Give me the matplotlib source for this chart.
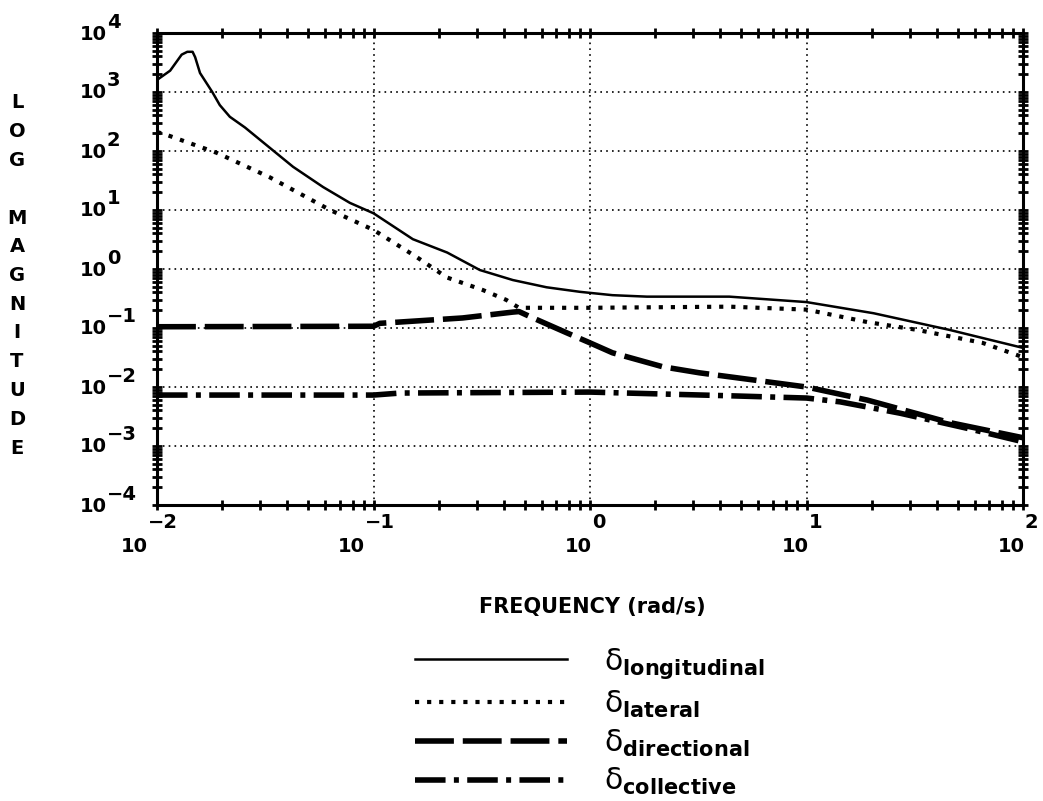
import matplotlib
matplotlib.use("Agg")
import matplotlib.pyplot as plt

# frequency (rad/s) and magnitude readings for each control input
long_freq = [0.0100, 0.0115, 0.0130, 0.0138, 0.0146, 0.0150, 0.0158, 0.0180, 0.0195, 0.0217,
             0.0255, 0.0299, 0.0425, 0.0585, 0.0778, 0.100, 0.152, 0.219, 0.31, 0.44, 0.63,
             0.90, 1.27, 1.83, 4.4, 10.0, 20.4, 45.7, 100.0]
long_mag = [1600, 2300, 4300, 4800, 4800, 3900, 2100, 1000, 600, 380,
            250, 155, 54, 24.5, 13.2, 8.8, 3.2, 1.9, 0.96, 0.65, 0.49,
            0.41, 0.36, 0.34, 0.34, 0.275, 0.178, 0.093, 0.046]

lat_freq = [0.0100, 0.0112, 0.0189, 0.0331, 0.063, 0.100, 0.158, 0.218, 0.32, 0.41, 0.47,
            1.0, 4.4, 10.0, 19.1, 32.4, 65.0, 100.0]
lat_mag = [210, 185, 93, 36, 10, 4.6, 1.6, 0.72, 0.44, 0.30, 0.22,
           0.22, 0.23, 0.205, 0.126, 0.093, 0.056, 0.032]

dir_freq = [0.0100, 0.100, 0.107, 0.258, 0.44, 0.47, 0.53, 0.78, 1.0, 1.27, 2.17,
            3.2, 10.0, 19.1, 45.7, 100.0]
dir_mag = [0.105, 0.107, 0.12, 0.148, 0.186, 0.19, 0.155, 0.083, 0.056, 0.038, 0.022,
           0.0174, 0.0100, 0.0060, 0.0025, 0.00138]

col_freq = [0.0100, 0.100, 0.133, 1.0, 4.4, 10.0, 14.3, 27.0, 55.0, 100.0]
col_mag = [0.0073, 0.0073, 0.0079, 0.0082, 0.0071, 0.0065, 0.0056, 0.0036, 0.0020, 0.00118]

x_exps = [-2, -1, 0, 1, 2]
y_exps = [-4, -3, -2, -1, 0, 1, 2, 3, 4]
ylabel_text = "LOG MAGNITUDE"
xlabel_text = "FREQUENCY (rad/s)"
labels = [r"$\mathrm{\delta}_{\mathbf{longitudinal}}$", r"$\mathrm{\delta}_{\mathbf{lateral}}$",
          r"$\mathrm{\delta}_{\mathbf{directional}}$", r"$\mathrm{\delta}_{\mathbf{collective}}$"]

W, H = 1043, 801
fig = plt.figure(figsize=(W / 100, H / 100), dpi=100)
ax = fig.add_axes([157 / W, (H - 505) / H, (1023 - 157) / W, (505 - 33) / H])

ax.plot(long_freq, long_mag, color="k", lw=1.8, label=labels[0])
ax.plot(lat_freq, lat_mag, color="k", lw=3.0, ls=(0, (1, 1.9)), label=labels[1])
ax.plot(dir_freq, dir_mag, color="k", lw=4.0, ls=(0, (7, 1.6)), label=labels[2])
ax.plot(col_freq, col_mag, color="k", lw=4.0, ls=(0, (5.5, 1.5, 0.9, 1.5)), label=labels[3])

ax.set_xscale("log")
ax.set_yscale("log")
ax.set_xlim(10.0 ** x_exps[0], 10.0 ** x_exps[-1])
ax.set_ylim(10.0 ** y_exps[0], 10.0 ** y_exps[-1])
ax.set_xticks([10.0 ** e for e in x_exps])
ax.set_yticks([10.0 ** e for e in y_exps])
ax.set_xticklabels([])
ax.set_yticklabels([])
ax.grid(which="major", color="k", lw=1.2, ls=(0, (1, 2.5)))
ax.tick_params(which="both", direction="inout", top=True, right=True, width=2,
               length=7, color="k")
for s in ax.spines.values():
    s.set_linewidth(2.2)

fs = 14
fw = "bold"
# tick labels: "10" plus a full-size exponent, like the plotter output
for e in y_exps:
    ex = str(e).replace("-", "\u2212")
    ax.annotate("10", xy=(0, 10.0 ** e), xycoords=("axes fraction", "data"),
                xytext=(-50, -1), textcoords="offset pixels", ha="right", va="center",
                fontsize=fs, fontweight=fw)
    ax.annotate(ex, xy=(0, 10.0 ** e), xycoords=("axes fraction", "data"),
                xytext=(-50, 11), textcoords="offset pixels", ha="left", va="center",
                fontsize=fs, fontweight=fw)
for e in x_exps:
    ex = str(e).replace("-", "\u2212")
    dx = -9 if e < 0 else 2
    ax.annotate("10", xy=(10.0 ** e, 0), xycoords=("data", "axes fraction"),
                xytext=(dx, -42), textcoords="offset pixels", ha="right", va="center",
                fontsize=fs, fontweight=fw)
    ax.annotate(ex, xy=(10.0 ** e, 0), xycoords=("data", "axes fraction"),
                xytext=(dx, -17), textcoords="offset pixels", ha="left", va="center",
                fontsize=fs, fontweight=fw)

# stacked y label
for i, ch in enumerate(ylabel_text):
    fig.text(17 / W, 1 - (103 + i * 28.75) / H, ch, ha="center", va="center",
             fontsize=fs, fontweight=fw)

fig.text(592 / W, 1 - 607 / H, xlabel_text, ha="center", va="center",
         fontsize=15, fontweight=fw)

fig.legend(loc="upper left", bbox_to_anchor=(415 / W, 1 - 646 / H), frameon=False,
           fontsize=21.5, handlelength=5.1, handletextpad=1.24, labelspacing=0.26,
           borderpad=0, borderaxespad=0)

fig.savefig("out.png", dpi=100)
